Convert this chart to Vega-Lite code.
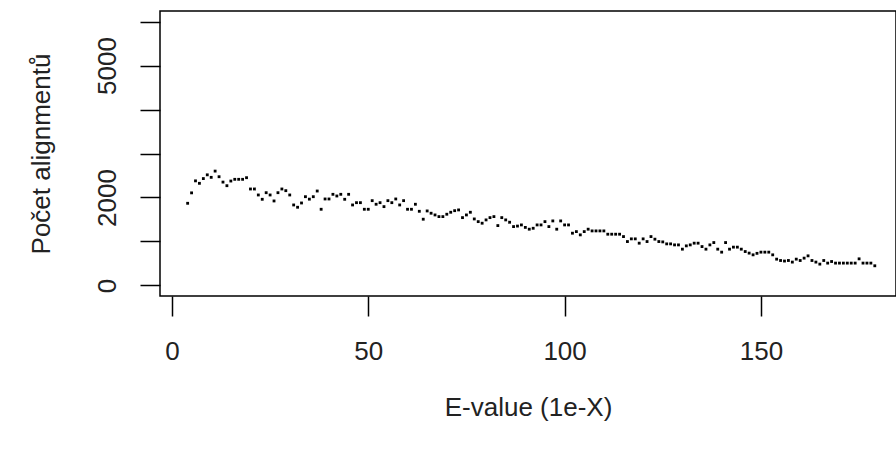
{
  "$schema": "https://vega.github.io/schema/vega-lite/v6.json",
  "width": 736,
  "height": 285,
  "autosize": {"type": "none"},
  "padding": {"left": 160, "top": 11, "right": 0, "bottom": 154},
  "background": "white",
  "config": {
    "view": {"stroke": "black", "strokeWidth": 1.5},
    "font": "Liberation Sans",
    "axis": {
      "domain": false,
      "grid": false,
      "ticks": true,
      "tickColor": "black",
      "tickWidth": 1.5,
      "tickSize": 20,
      "labelColor": "#222",
      "labelFont": "Liberation Sans",
      "labelFontSize": 26,
      "titleFont": "Liberation Sans",
      "titleFontSize": 26,
      "titleFontWeight": "normal",
      "titleColor": "#222"
    }
  },
  "data": {
    "values": [
      {"x": 4, "y": 1868}, {"x": 5, "y": 2105}, {"x": 6, "y": 2378}, {"x": 7, "y": 2322}, {"x": 8, "y": 2430},
      {"x": 9, "y": 2515}, {"x": 10, "y": 2458}, {"x": 11, "y": 2600}, {"x": 12, "y": 2472}, {"x": 13, "y": 2350},
      {"x": 14, "y": 2268}, {"x": 15, "y": 2374}, {"x": 16, "y": 2413}, {"x": 17, "y": 2413}, {"x": 18, "y": 2413},
      {"x": 19, "y": 2450}, {"x": 20, "y": 2193}, {"x": 21, "y": 2193}, {"x": 22, "y": 2057}, {"x": 23, "y": 1959},
      {"x": 24, "y": 2109}, {"x": 25, "y": 2057}, {"x": 26, "y": 1921}, {"x": 27, "y": 2109}, {"x": 28, "y": 2193},
      {"x": 29, "y": 2155}, {"x": 30, "y": 2057}, {"x": 31, "y": 1830}, {"x": 32, "y": 1778}, {"x": 33, "y": 1875},
      {"x": 34, "y": 2018}, {"x": 35, "y": 1962}, {"x": 36, "y": 2018}, {"x": 37, "y": 2147}, {"x": 38, "y": 1732},
      {"x": 39, "y": 1966}, {"x": 40, "y": 1966}, {"x": 41, "y": 2072}, {"x": 42, "y": 2034}, {"x": 43, "y": 2072},
      {"x": 44, "y": 1959}, {"x": 45, "y": 2072}, {"x": 46, "y": 1830}, {"x": 47, "y": 1882}, {"x": 48, "y": 1882},
      {"x": 49, "y": 1732}, {"x": 50, "y": 1732}, {"x": 51, "y": 1928}, {"x": 52, "y": 1846}, {"x": 53, "y": 1882},
      {"x": 54, "y": 1792}, {"x": 55, "y": 1928}, {"x": 56, "y": 1882}, {"x": 57, "y": 1966}, {"x": 58, "y": 1830},
      {"x": 59, "y": 1928}, {"x": 60, "y": 1732}, {"x": 61, "y": 1732}, {"x": 62, "y": 1846}, {"x": 63, "y": 1686},
      {"x": 64, "y": 1506}, {"x": 65, "y": 1694}, {"x": 66, "y": 1642}, {"x": 67, "y": 1603}, {"x": 68, "y": 1565},
      {"x": 69, "y": 1565}, {"x": 70, "y": 1619}, {"x": 71, "y": 1664}, {"x": 72, "y": 1700}, {"x": 73, "y": 1717},
      {"x": 74, "y": 1542}, {"x": 75, "y": 1603}, {"x": 76, "y": 1664}, {"x": 77, "y": 1512}, {"x": 78, "y": 1451},
      {"x": 79, "y": 1415}, {"x": 80, "y": 1490}, {"x": 81, "y": 1542}, {"x": 82, "y": 1565}, {"x": 83, "y": 1361},
      {"x": 84, "y": 1542}, {"x": 85, "y": 1490}, {"x": 86, "y": 1437}, {"x": 87, "y": 1338}, {"x": 88, "y": 1350},
      {"x": 89, "y": 1376}, {"x": 90, "y": 1320}, {"x": 91, "y": 1279}, {"x": 92, "y": 1300}, {"x": 93, "y": 1376},
      {"x": 94, "y": 1376}, {"x": 95, "y": 1451}, {"x": 96, "y": 1338}, {"x": 97, "y": 1467}, {"x": 98, "y": 1279},
      {"x": 99, "y": 1467}, {"x": 100, "y": 1376}, {"x": 101, "y": 1376}, {"x": 102, "y": 1188}, {"x": 103, "y": 1224},
      {"x": 104, "y": 1150}, {"x": 105, "y": 1224}, {"x": 106, "y": 1279}, {"x": 107, "y": 1240}, {"x": 108, "y": 1240},
      {"x": 109, "y": 1240}, {"x": 110, "y": 1240}, {"x": 111, "y": 1165}, {"x": 112, "y": 1165}, {"x": 113, "y": 1165},
      {"x": 114, "y": 1165}, {"x": 115, "y": 1111}, {"x": 116, "y": 998}, {"x": 117, "y": 1059}, {"x": 118, "y": 1059},
      {"x": 119, "y": 961}, {"x": 120, "y": 1059}, {"x": 121, "y": 998}, {"x": 122, "y": 1111}, {"x": 123, "y": 1052},
      {"x": 124, "y": 998}, {"x": 125, "y": 990}, {"x": 126, "y": 945}, {"x": 127, "y": 945}, {"x": 128, "y": 922},
      {"x": 129, "y": 922}, {"x": 130, "y": 825}, {"x": 131, "y": 900}, {"x": 132, "y": 922}, {"x": 133, "y": 961},
      {"x": 134, "y": 961}, {"x": 135, "y": 884}, {"x": 136, "y": 825}, {"x": 137, "y": 922}, {"x": 138, "y": 975},
      {"x": 139, "y": 825}, {"x": 140, "y": 757}, {"x": 141, "y": 975}, {"x": 142, "y": 825}, {"x": 143, "y": 871},
      {"x": 144, "y": 871}, {"x": 145, "y": 825}, {"x": 146, "y": 771}, {"x": 147, "y": 735}, {"x": 148, "y": 696},
      {"x": 149, "y": 730}, {"x": 150, "y": 757}, {"x": 151, "y": 757}, {"x": 152, "y": 757}, {"x": 153, "y": 696},
      {"x": 154, "y": 598}, {"x": 155, "y": 567}, {"x": 156, "y": 555}, {"x": 157, "y": 567}, {"x": 158, "y": 531},
      {"x": 159, "y": 598}, {"x": 160, "y": 567}, {"x": 161, "y": 621}, {"x": 162, "y": 673}, {"x": 163, "y": 567},
      {"x": 164, "y": 531}, {"x": 165, "y": 485}, {"x": 166, "y": 567}, {"x": 167, "y": 508}, {"x": 168, "y": 544},
      {"x": 169, "y": 508}, {"x": 170, "y": 508}, {"x": 171, "y": 508}, {"x": 172, "y": 508}, {"x": 173, "y": 508},
      {"x": 174, "y": 508}, {"x": 175, "y": 605}, {"x": 176, "y": 508}, {"x": 177, "y": 508}, {"x": 178, "y": 508},
      {"x": 179, "y": 447}
    ]
  },
  "mark": {"type": "square", "size": 8, "color": "black", "opacity": 1, "filled": true},
  "encoding": {
    "x": {
      "field": "x",
      "type": "quantitative",
      "scale": {"domain": [-3.04, 184.4], "nice": false, "zero": false},
      "axis": {
        "values": [0, 50, 100, 150],
        "title": "E-value (1e-X)",
        "labelPadding": 22,
        "titlePadding": 30,
        "labelFlush": false
      }
    },
    "y": {
      "field": "y",
      "type": "quantitative",
      "scale": {"domain": [-240, 6240], "nice": false, "zero": false},
      "axis": {
        "values": [0, 1000, 2000, 3000, 4000, 5000, 6000],
        "labelExpr": "datum.value == 0 || datum.value == 2000 || datum.value == 5000 ? datum.value + '' : ''",
        "labelAngle": -90,
        "labelAlign": "center",
        "labelBaseline": "bottom",
        "labelPadding": 20,
        "labelFlush": false,
        "title": "Počet alignmentů",
        "titlePadding": 40
      }
    }
  }
}
